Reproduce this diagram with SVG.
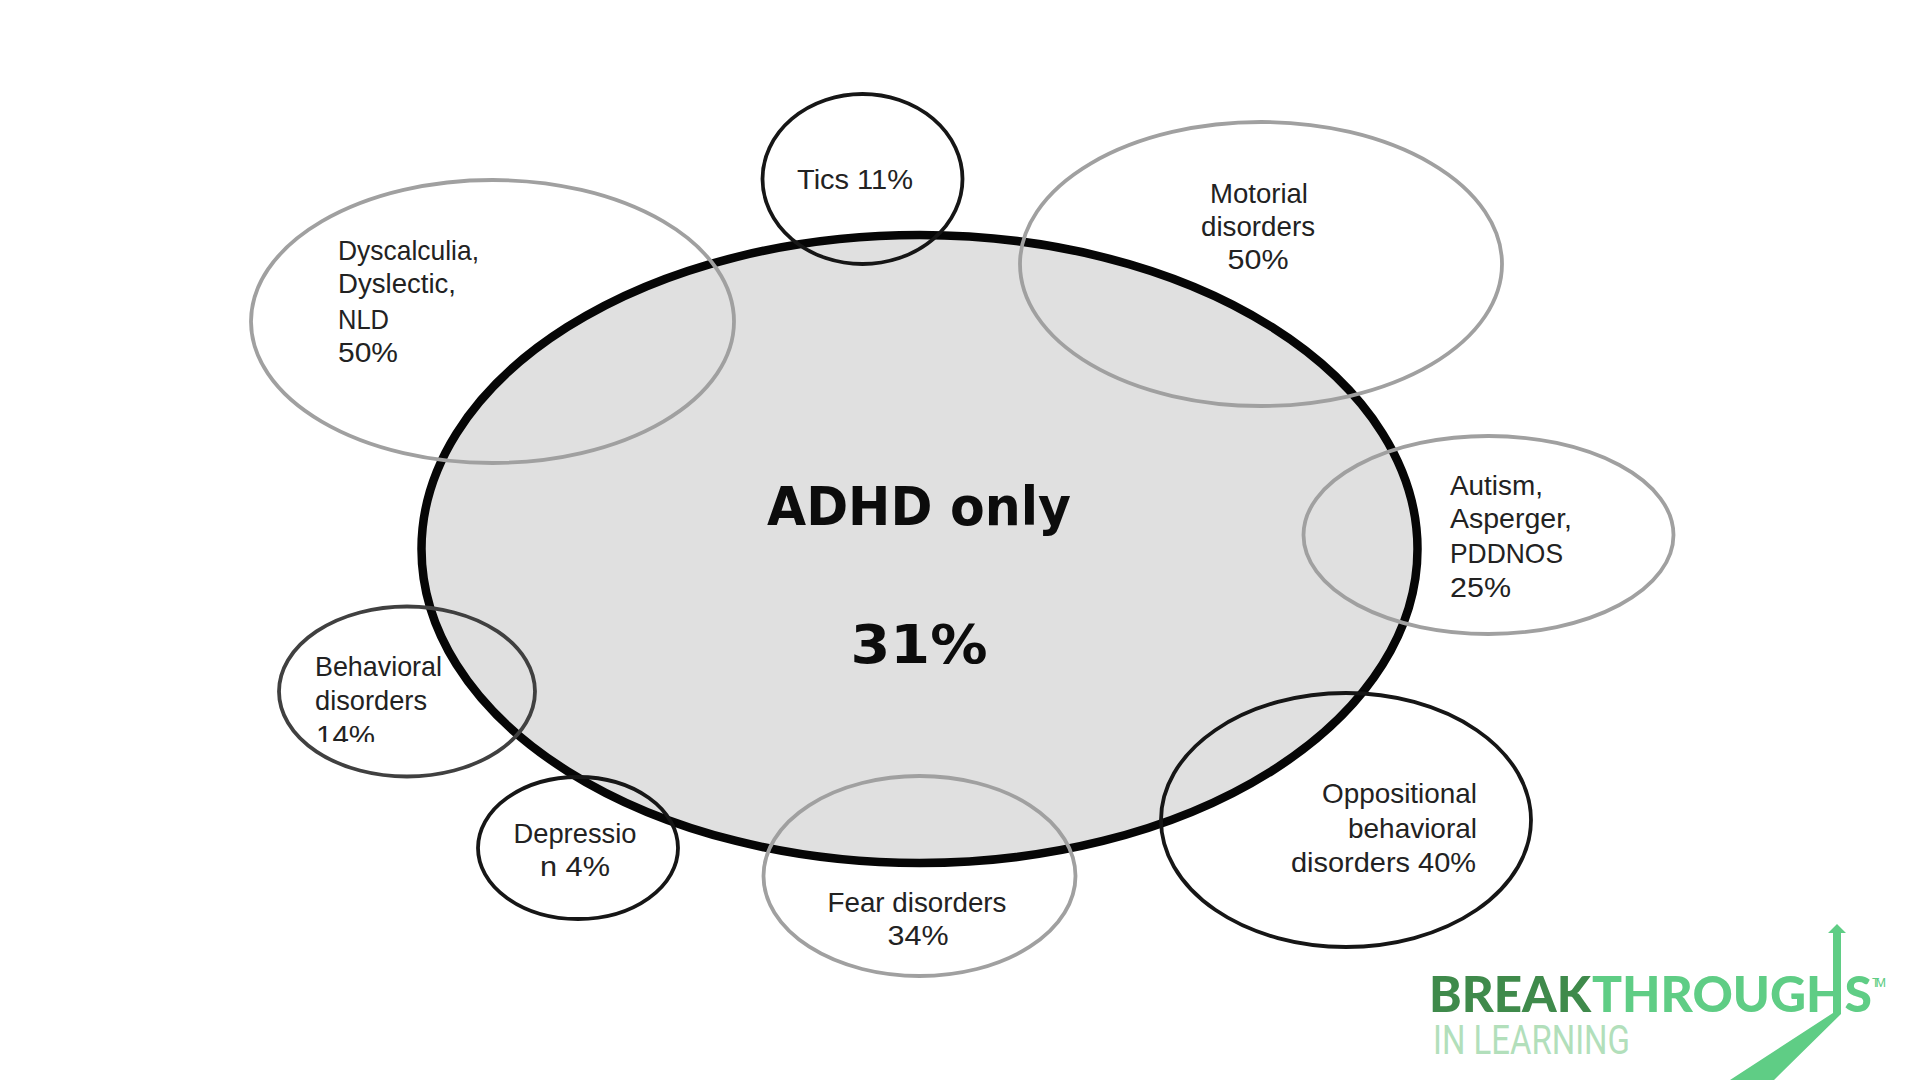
<svg xmlns="http://www.w3.org/2000/svg" width="1920" height="1080" viewBox="0 0 1920 1080">
<style>
.o{fill:none}
.g{stroke:#a0a0a0;stroke-width:3.8}
.k{stroke:#161616;stroke-width:3.8}
.t{font-family:"Liberation Sans",Arial,sans-serif;font-size:27.5px;fill:#222}
.m{text-anchor:middle}
.b{font-family:"DejaVu Sans",Verdana,sans-serif;font-weight:700;font-size:54px;fill:#0c0c0c;text-anchor:middle}
.l{font-family:Lato,"Liberation Sans",sans-serif;font-weight:900;font-size:49px}
</style>
<defs><clipPath id="c14"><rect x="300" y="640" width="200" height="102"/></clipPath></defs>
<rect width="1920" height="1080" fill="#fff"/>
<g id="adhd">
<ellipse cx="919.5" cy="549" rx="498" ry="314" fill="#e0e0e0" stroke="#060606" stroke-width="8.5"/>
<text class="b" x="919" y="525" textLength="304" lengthAdjust="spacingAndGlyphs">ADHD only</text>
<text class="b" x="919" y="663" textLength="137" lengthAdjust="spacingAndGlyphs">31%</text>
</g>
<g id="tics"><ellipse class="o k" cx="862.5" cy="179" rx="100" ry="85"/><text class="t m" x="855" y="189" textLength="116" lengthAdjust="spacingAndGlyphs">Tics 11%</text></g>
<g id="motorial"><ellipse class="o g" cx="1261" cy="264" rx="241" ry="142"/>
<text class="t m" x="1259" y="203" textLength="98" lengthAdjust="spacingAndGlyphs">Motorial</text><text class="t m" x="1258" y="236" textLength="114" lengthAdjust="spacingAndGlyphs">disorders</text><text class="t m" x="1258" y="269" textLength="61" lengthAdjust="spacingAndGlyphs">50%</text></g>
<g id="dyscalculia"><ellipse class="o g" cx="492.5" cy="321.5" rx="241.5" ry="141.5"/>
<text class="t" x="338" y="260" textLength="141" lengthAdjust="spacingAndGlyphs">Dyscalculia,</text><text class="t" x="338" y="293" textLength="118" lengthAdjust="spacingAndGlyphs">Dyslectic,</text><text class="t" x="338" y="329" textLength="51" lengthAdjust="spacingAndGlyphs">NLD</text><text class="t" x="338" y="362" textLength="60" lengthAdjust="spacingAndGlyphs">50%</text></g>
<g id="autism"><ellipse class="o g" cx="1488.5" cy="535" rx="185" ry="99"/>
<text class="t" x="1450" y="495" textLength="93" lengthAdjust="spacingAndGlyphs">Autism,</text><text class="t" x="1450" y="528" textLength="122" lengthAdjust="spacingAndGlyphs">Asperger,</text><text class="t" x="1450" y="563" textLength="113" lengthAdjust="spacingAndGlyphs">PDDNOS</text><text class="t" x="1450" y="597" textLength="61" lengthAdjust="spacingAndGlyphs">25%</text></g>
<g id="oppositional"><ellipse class="o k" cx="1346" cy="820" rx="185" ry="127"/>
<text class="t" x="1322" y="803" textLength="155" lengthAdjust="spacingAndGlyphs">Oppositional</text><text class="t" x="1348" y="838" textLength="129" lengthAdjust="spacingAndGlyphs">behavioral</text><text class="t" x="1291" y="872" textLength="185" lengthAdjust="spacingAndGlyphs">disorders 40%</text></g>
<g id="fear"><ellipse class="o g" cx="919.5" cy="876" rx="156" ry="100"/>
<text class="t m" x="917" y="912" textLength="179" lengthAdjust="spacingAndGlyphs">Fear disorders</text><text class="t m" x="918" y="945" textLength="61" lengthAdjust="spacingAndGlyphs">34%</text></g>
<g id="depression"><ellipse class="o k" cx="578" cy="848" rx="100" ry="71"/>
<text class="t m" x="575" y="843" textLength="123" lengthAdjust="spacingAndGlyphs">Depressio</text><text class="t m" x="575" y="876" textLength="70" lengthAdjust="spacingAndGlyphs">n 4%</text></g>
<g id="behavioral"><ellipse class="o" stroke="#404040" stroke-width="3.8" cx="407" cy="691.5" rx="128" ry="85"/>
<text class="t" x="315" y="676" textLength="127" lengthAdjust="spacingAndGlyphs">Behavioral</text><text class="t" x="315" y="710" textLength="112" lengthAdjust="spacingAndGlyphs">disorders</text><text class="t" x="316" y="745" clip-path="url(#c14)" textLength="59" lengthAdjust="spacingAndGlyphs">14%</text></g>
<g id="logo">
<text class="l" x="1429" y="1012" fill="#3f8a4b" textLength="162" lengthAdjust="spacingAndGlyphs">BREAK</text>
<text class="l" x="1592" y="1012" fill="#5fcd85" textLength="280" lengthAdjust="spacingAndGlyphs">THROUGHS</text>
<text x="1872" y="987" font-family="Roboto,sans-serif" font-size="12" fill="#5fcd85" textLength="14">TM</text>
<text x="1433" y="1054" font-family="Roboto,sans-serif" font-size="41" fill="#b2dfbb" textLength="197" lengthAdjust="spacingAndGlyphs">IN LEARNING</text>
<polygon fill="#5fcd85" points="1837,924 1846,933 1841,933 1841,1014 1774,1080 1730,1080 1833,1013 1833,933 1828,933"/>
</g>
</svg>
